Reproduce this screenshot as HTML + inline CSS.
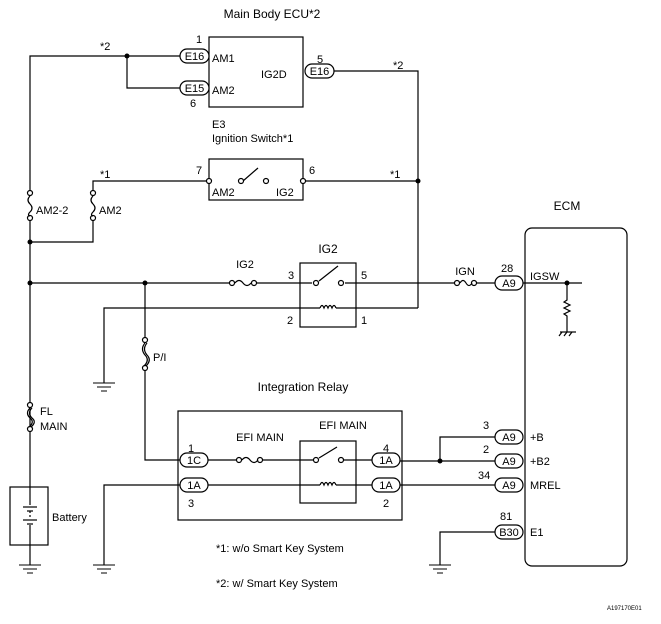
<!DOCTYPE html>
<html><head><style>body{margin:0;background:#fff}svg{display:block}</style></head><body>
<svg width="661" height="624" viewBox="0 0 661 624" xmlns="http://www.w3.org/2000/svg" font-family="Liberation Sans, sans-serif" font-size="11" fill="#000">
<defs>
<g id="gnd" stroke="#000" stroke-width="1"><line x1="-11" y1="0" x2="11" y2="0"/><line x1="-7" y1="4" x2="7" y2="4"/><line x1="-3" y1="8" x2="3" y2="8"/></g>
</defs>
<g stroke="#000" stroke-width="1.2" fill="none">
<!-- Main body ECU -->
<rect x="209" y="37" width="94" height="70"/>
<polyline points="30,193 30,56 180,56"/>
<polyline points="127,56 127,88 180,88"/>
<polyline points="334,71 418,71 418,308"/>
<!-- ignition switch -->
<rect x="209" y="159" width="94" height="41"/>
<polyline points="93,193 93,181 209,181"/>
<line x1="303" y1="181" x2="418" y2="181"/>
<line x1="243" y1="181" x2="258" y2="168"/>
<!-- fuses AM2-2, AM2 -->
<line x1="30" y1="218" x2="30" y2="565"/>
<polyline points="93,218 93,242 30,242"/>
<!-- main horizontal -->
<line x1="30" y1="283" x2="230" y2="283"/>
<line x1="256" y1="283" x2="312" y2="283"/>
<line x1="345" y1="283" x2="455" y2="283"/>
<line x1="476" y1="283" x2="495" y2="283"/>
<rect x="300" y="263" width="56" height="64"/>
<line x1="319" y1="281" x2="338" y2="266"/>
<polyline points="104,383 104,308 320,308"/>
<line x1="336" y1="308" x2="418" y2="308"/>
<!-- P/I -->
<line x1="145" y1="283" x2="145" y2="340"/>
<polyline points="145,368 145,460 180,460"/>
<!-- Integration relay -->
<rect x="178" y="411" width="224" height="109"/>
<rect x="300" y="441" width="56" height="62"/>
<line x1="208" y1="460" x2="237" y2="460"/>
<line x1="262" y1="460" x2="313" y2="460"/>
<line x1="344" y1="460" x2="372" y2="460"/>
<line x1="319" y1="458" x2="337" y2="447"/>
<polyline points="104,565 104,485 180,485"/>
<line x1="208" y1="485" x2="320" y2="485"/>
<line x1="336" y1="485" x2="372" y2="485"/>
<line x1="400" y1="461" x2="495" y2="461"/>
<polyline points="440,461 440,437 495,437"/>
<line x1="400" y1="485" x2="495" y2="485"/>
<polyline points="440,565 440,532 495,532"/>
<!-- ECM -->
<rect x="525" y="228" width="102" height="338" rx="7"/>
<line x1="523" y1="283" x2="582" y2="283"/>
<polyline points="567,283 567,300 564,302 570,305 564,308 570,311 564,314 567,316 567,332"/>
<line x1="560" y1="332" x2="576" y2="332"/>
<line x1="562" y1="332" x2="559" y2="336"/><line x1="567" y1="332" x2="564" y2="336"/><line x1="572" y1="332" x2="569" y2="336"/>
<!-- battery -->
<rect x="10" y="487" width="38" height="58" fill="#fff"/>
<line x1="30" y1="487" x2="30" y2="505"/><line x1="30" y1="525" x2="30" y2="545"/>
<line x1="23" y1="507" x2="37" y2="507"/><line x1="27" y1="511" x2="33" y2="511"/>
<line x1="30" y1="511" x2="30" y2="519" stroke-dasharray="2,2"/>
<line x1="23" y1="520" x2="37" y2="520"/><line x1="27" y1="524" x2="33" y2="524"/>
</g>
<!-- fuse shapes -->
<g stroke="#000" stroke-width="1.2" fill="#fff">
<circle cx="30" cy="193" r="2.5"/><circle cx="30" cy="218" r="2.5"/>
<circle cx="93" cy="193" r="2.5"/><circle cx="93" cy="218" r="2.5"/>
<circle cx="30" cy="405" r="2.5"/><circle cx="30" cy="429" r="2.5"/>
<circle cx="145" cy="340" r="2.5"/><circle cx="145" cy="368" r="2.5"/>
<circle cx="232" cy="283" r="2.5"/><circle cx="254" cy="283" r="2.5"/>
<circle cx="457" cy="283" r="2.5"/><circle cx="474" cy="283" r="2.5"/>
<circle cx="239" cy="460" r="2.5"/><circle cx="260" cy="460" r="2.5"/>
<circle cx="316" cy="283" r="2.5"/><circle cx="341" cy="283" r="2.5"/>
<circle cx="316" cy="460" r="2.5"/><circle cx="341" cy="460" r="2.5"/>
<circle cx="209" cy="181" r="2.5"/><circle cx="241" cy="181" r="2.5"/><circle cx="266" cy="181" r="2.5"/><circle cx="303" cy="181" r="2.5"/>
</g>
<g stroke="#000" stroke-width="1.2" fill="none">
<path d="M30,196 q-4,4 0,8 q4,4 0,8 q-3,3 0,4"/>
<path d="M93,196 q-4,4 0,8 q4,4 0,8 q-3,3 0,4"/>
<path d="M30,408 q-5,5 0,10 q5,4 -1,9 M32,408 q-5,5 0,10 q5,4 -1,9"/>
<path d="M145,343 q-5,6 0,12 q5,5 -1,11 M147,343 q-5,6 0,12 q5,5 -1,11"/>
<path d="M235,283 q4,-5 8,0 q4,5 8,0"/>
<path d="M460,283 q3,-5 6,0 q3,5 6,0"/>
<path d="M242,460 q4,-5 8,0 q4,5 8,0"/>
<path d="M320,308 q2,-5 4,0 q2,-5 4,0 q2,-5 4,0 q2,-5 4,0"/>
<path d="M320,485 q2,-5 4,0 q2,-5 4,0 q2,-5 4,0 q2,-5 4,0"/>
</g>
<!-- junctions -->
<g fill="#000">
<circle cx="127" cy="56" r="2.5"/><circle cx="418" cy="181" r="2.5"/>
<circle cx="30" cy="242" r="2.5"/><circle cx="30" cy="283" r="2.5"/><circle cx="145" cy="283" r="2.5"/>
<circle cx="440" cy="461" r="2.5"/><circle cx="567" cy="283" r="2.5"/>
</g>
<!-- grounds -->
<use href="#gnd" x="104" y="383"/><use href="#gnd" x="30" y="565"/><use href="#gnd" x="104" y="565"/><use href="#gnd" x="440" y="565"/>
<!-- connectors -->
<g stroke="#000" stroke-width="1.2" fill="#fff">
<rect x="180" y="49" width="29" height="14" rx="7"/>
<rect x="180" y="81" width="29" height="14" rx="7"/>
<rect x="305" y="64" width="29" height="14" rx="7"/>
<rect x="495" y="276" width="28" height="14" rx="7"/>
<rect x="180" y="453" width="28" height="14" rx="7"/>
<rect x="180" y="478" width="28" height="14" rx="7"/>
<rect x="372" y="453" width="28" height="14" rx="7"/>
<rect x="372" y="478" width="28" height="14" rx="7"/>
<rect x="495" y="430" width="28" height="14" rx="7"/>
<rect x="495" y="454" width="28" height="14" rx="7"/>
<rect x="495" y="478" width="28" height="14" rx="7"/>
<rect x="495" y="525" width="28" height="14" rx="7"/>
</g>
<g text-anchor="middle" font-size="11">
<text x="194.5" y="60">E16</text><text x="194.5" y="92">E15</text><text x="319.5" y="75">E16</text>
<text x="509" y="287">A9</text><text x="194" y="464">1C</text><text x="194" y="489">1A</text>
<text x="386" y="464">1A</text><text x="386" y="489">1A</text>
<text x="509" y="441">A9</text><text x="509" y="465">A9</text><text x="509" y="489">A9</text><text x="509" y="536">B30</text>
<text x="272" y="18" font-size="12">Main Body ECU*2</text>
<text x="567" y="210" font-size="12">ECM</text>
<text x="303" y="391" font-size="12">Integration Relay</text>
<text x="328" y="253" font-size="12">IG2</text>
<text x="245" y="268">IG2</text>
<text x="465" y="275">IGN</text>
<text x="343" y="429">EFI MAIN</text><text x="260" y="441">EFI MAIN</text>
</g>
<g font-size="11">
<text x="196" y="43">1</text><text x="190" y="107">6</text><text x="317" y="63">5</text>
<text x="212" y="62">AM1</text><text x="212" y="94">AM2</text><text x="261" y="78">IG2D</text>
<text x="100" y="50">*2</text><text x="393" y="69">*2</text>
<text x="212" y="128">E3</text><text x="212" y="142">Ignition Switch*1</text>
<text x="196" y="174">7</text><text x="309" y="174">6</text>
<text x="100" y="178">*1</text><text x="390" y="178">*1</text>
<text x="212" y="196">AM2</text><text x="276" y="196">IG2</text>
<text x="36" y="214">AM2-2</text><text x="99" y="214">AM2</text>
<text x="288" y="279">3</text><text x="361" y="279">5</text><text x="287" y="324">2</text><text x="361" y="324">1</text>
<text x="153" y="361">P/I</text>
<text x="40" y="415">FL</text><text x="40" y="430">MAIN</text>
<text x="52" y="521">Battery</text>
<text x="188" y="452">1</text><text x="188" y="507">3</text><text x="383" y="452">4</text><text x="383" y="507">2</text>
<text x="501" y="272">28</text><text x="530" y="280">IGSW</text>
<text x="483" y="429">3</text><text x="483" y="453">2</text><text x="478" y="479">34</text><text x="500" y="520">81</text>
<text x="530" y="441">+B</text><text x="530" y="465">+B2</text><text x="530" y="489">MREL</text><text x="530" y="536">E1</text>
<text x="216" y="552">*1: w/o Smart Key System</text>
<text x="216" y="587">*2: w/ Smart Key System</text>
<text x="607" y="610" font-size="6">A197170E01</text>
</g>
</svg>
</body></html>
